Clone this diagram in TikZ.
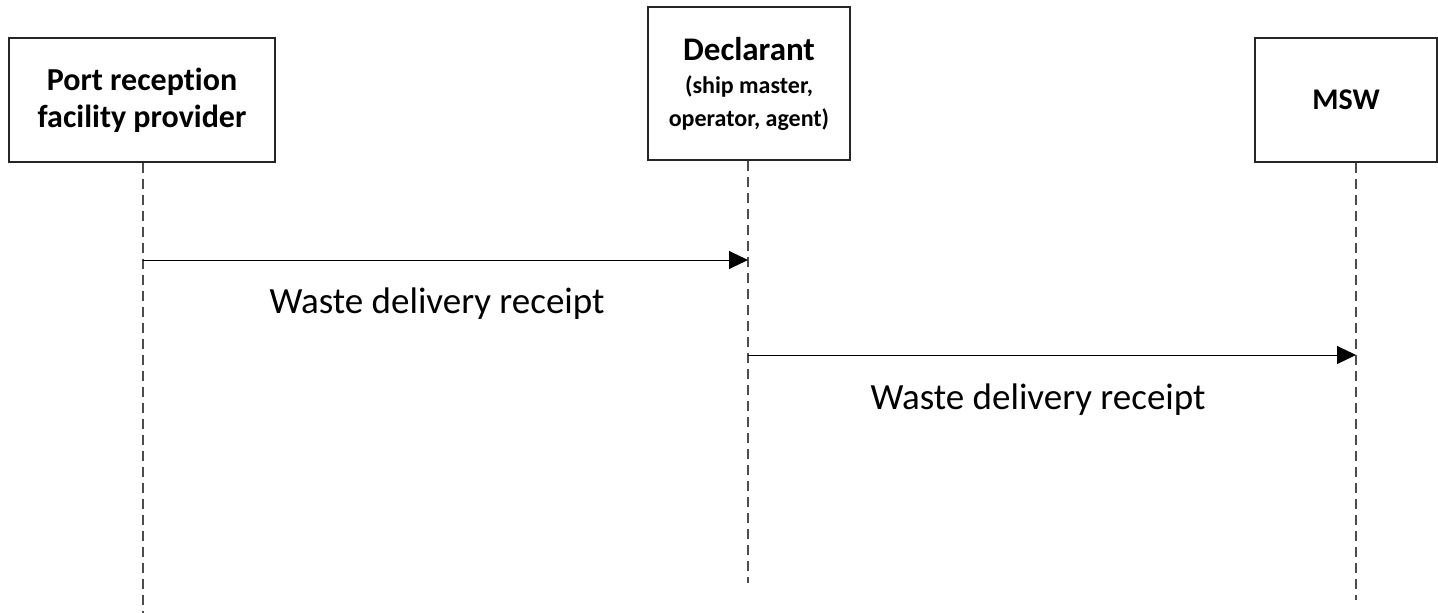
\documentclass[tikz,border=0pt]{standalone}
\usepackage{fontspec}
\setmainfont{Carlito}[Ligatures=NoCommon]
\usetikzlibrary{arrows.meta}

\tikzset{
  actor/.style={draw=black!85,line width=1.3pt,fill=white,inner sep=0pt,
    align=center,font=\bfseries\fontsize{32}{37}\selectfont},
  lifeline/.style={draw=black!70,line width=1.3pt,dash pattern=on 10pt off 6pt},
  msg/.style={draw=black,line width=1pt,-{Triangle[length=19pt,width=18pt]}},
  msglabel/.style={font=\fontsize{37}{42}\selectfont,anchor=base,inner sep=0pt}
}

\begin{document}
\begin{tikzpicture}[x=1pt,y=-1pt]
  \useasboundingbox (0,0) rectangle (1438,613);
  \node[actor,minimum width=266pt,minimum height=124pt] (prf) at (142,100)
    {Port reception\\facility provider};
  \node[actor,minimum width=202pt,minimum height=153pt,
    font=\bfseries\fontsize{24}{33}\selectfont] (dec) at (749,83.5)
    {{\fontsize{33}{33}\selectfont Declarant}\\(ship master,\\operator, agent)};
  \node[actor,minimum width=182pt,minimum height=124pt,
    font=\bfseries\fontsize{30}{36}\selectfont] (msw) at (1346,100) {MSW};
  \coordinate (prfend) at (143,613);
  \coordinate (decend) at (748,583);
  \coordinate (mswend) at (1356,600);
  \draw[lifeline] (prf.south -| prfend) -- (prfend);
  \draw[lifeline] (dec.south -| decend) -- (decend);
  \draw[lifeline] (msw.south -| mswend) -- (mswend);
  \coordinate (prf1) at (143,260);
  \coordinate (dec1) at (748,260);
  \coordinate (dec2) at (748,355);
  \coordinate (msw2) at (1356,355);
  \draw[msg] (prf1) -- (dec1);
  \draw[msg] (dec2) -- (msw2);
  \node[msglabel] (lbl1) at (437,313) {Waste delivery receipt};
  \node[msglabel] (lbl2) at (1038,409) {Waste delivery receipt};
\end{tikzpicture}
\end{document}
